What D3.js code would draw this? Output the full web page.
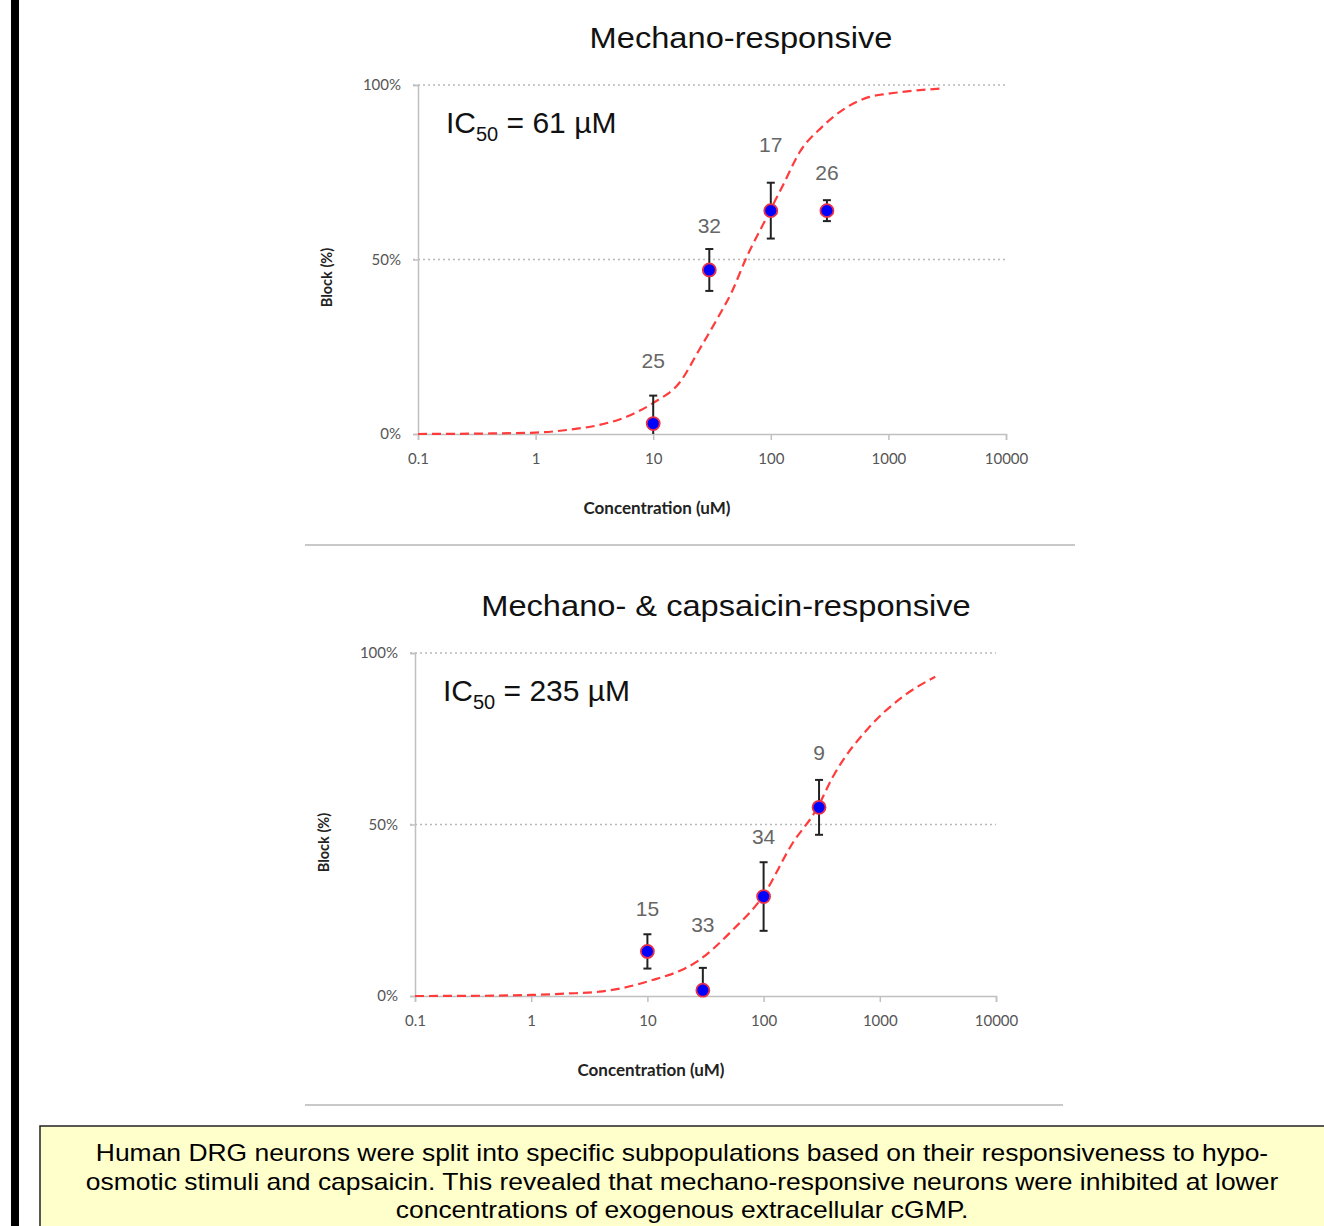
<!DOCTYPE html>
<html>
<head>
<meta charset="utf-8">
<script src="https://cdn.jsdelivr.net/npm/d3@7"></script>
<style>
  html, body { margin: 0; padding: 0; background: #fff; }
  svg { display: block; }
</style>
</head>
<body>
<svg id="chart" width="1324" height="1226"></svg>
<script>
// ---------- DATA ----------
const xTickValues = [0.1, 1, 10, 100, 1000, 10000];
const xTickLabels = ["0.1", "1", "10", "100", "1000", "10000"];
const yTickValues = [0, 50, 100];
const yTickLabels = ["0%", "50%", "100%"];

// Panel 1: Mechano-responsive
const topTitle = "Mechano-responsive";
const topIC50 = "61";
const topConc = [10, 30, 100, 300];
const topBlock = [3, 47, 64, 64];
const topErr = [8, 6, 8, 3];
const topN = ["25", "32", "17", "26"];
const topLabelAt = [21, 59.6, 83, 75];
const topCurveConc = [0.1, 0.3, 1, 2, 3.5, 6, 10, 17, 24.5, 35, 47, 61, 92, 130, 174, 273, 690, 1000, 2800];
const topCurvePct  = [0, 0.1, 0.4, 1.3, 2.6, 5, 8.9, 15, 24, 33, 41, 50, 62, 72, 80.5, 88, 96.6, 97.5, 99];

// Panel 2: Mechano- & capsaicin-responsive
const botTitle = "Mechano- & capsaicin-responsive";
const botIC50 = "235";
const botConc = [10, 30, 100, 300];
const botBlock = [13, 1.7, 29, 55];
const botErr = [5, 6.5, 10, 8];
const botN = ["15", "33", "34", "9"];
const botLabelAt = [25.4, 20.7, 46.6, 71.1];
const botCurveConc = [0.1, 0.3, 1, 2, 3.86, 10, 28, 54, 97.6, 178, 290, 390, 813, 1567, 3000];
const botCurvePct  = [0, 0.05, 0.3, 0.7, 1.25, 4.2, 10.5, 19.2, 28.9, 44.6, 54.8, 63.6, 78.4, 87.2, 93.1];

const captionLines = [
  "Human DRG neurons were split into specific subpopulations based on their responsiveness to hypo-",
  "osmotic stimuli and capsaicin. This revealed that mechano-responsive neurons were inhibited at lower",
  "concentrations of exogenous extracellular cGMP."
];

// ---------- DRAW ----------
const svg = d3.select("#chart");
const tickFont = "Lato, 'Open Sans', sans-serif";
const mainFont = "'Liberation Sans', Arial, sans-serif";

// left black bar
svg.append("rect").attr("x", 11).attr("y", 0).attr("width", 8).attr("height", 1226).attr("fill", "#000");

function panel(cfg) {
  const x = d3.scaleLog().domain([0.1, 10000]).range([cfg.left, cfg.right]);
  const y = d3.scaleLinear().domain([0, 100]).range([cfg.bottom, cfg.top]);
  const g = svg.append("g");

  // title (slightly stretched horizontally like the reference)
  g.append("text")
    .attr("transform", `translate(${cfg.titleX},${cfg.titleY}) scale(1.125,1)`)
    .attr("text-anchor", "middle").attr("font-family", mainFont)
    .attr("font-size", 29).attr("fill", "#111").text(cfg.title);

  // gridlines (dotted)
  g.selectAll(".grid").data(yTickValues.filter(v => v > 0)).enter().append("line")
    .attr("x1", cfg.left - 5).attr("x2", cfg.right)
    .attr("y1", d => y(d)).attr("y2", d => y(d))
    .attr("stroke", "#b8b8b8").attr("stroke-width", 1.5).attr("stroke-dasharray", "2,3");

  // y axis
  const yAxis = d3.axisLeft(y).tickValues(yTickValues).tickFormat((d, i) => yTickLabels[i]).tickSize(5).tickPadding(12);
  const ya = g.append("g").attr("transform", `translate(${cfg.left},0)`).call(yAxis);
  ya.select(".domain").attr("stroke", "#c0c0c0").attr("stroke-width", 1.5);
  ya.selectAll(".tick line").attr("stroke", "#c0c0c0").attr("stroke-width", 1.5);
  ya.selectAll(".tick text").attr("font-family", tickFont).attr("font-size", 15).attr("fill", "#555");

  // x axis
  const xAxis = d3.axisBottom(x).tickValues(xTickValues).tickFormat((d, i) => xTickLabels[i]).tickSize(6).tickPadding(13);
  const xa = g.append("g").attr("transform", `translate(0,${cfg.bottom})`).call(xAxis);
  xa.select(".domain").attr("stroke", "#c0c0c0").attr("stroke-width", 1.5);
  xa.selectAll(".tick line").attr("stroke", "#c0c0c0").attr("stroke-width", 1.5);
  xa.selectAll(".tick text").attr("font-family", tickFont).attr("font-size", 15).attr("fill", "#555");

  // axis titles
  g.append("text").attr("transform", `translate(${cfg.left - 86},${(cfg.top + cfg.bottom) / 2 + 18}) rotate(-90)`)
    .attr("text-anchor", "middle").attr("font-family", tickFont).attr("font-weight", "bold")
    .attr("font-size", 14.5).attr("fill", "#222").text("Block (%)");
  g.append("text").attr("x", cfg.xLabelX).attr("y", cfg.bottom + 80)
    .attr("text-anchor", "middle").attr("font-family", tickFont).attr("font-weight", "bold")
    .attr("font-size", 17).attr("fill", "#222").text("Concentration (uM)");

  // IC50 annotation
  const ic = g.append("text").attr("x", cfg.left + 28).attr("y", cfg.top + 48)
    .attr("font-family", mainFont).attr("font-size", 30).attr("fill", "#111");
  ic.append("tspan").text("IC");
  ic.append("tspan").attr("font-size", 20).attr("dy", 8).text("50");
  ic.append("tspan").attr("dy", -8).text(` = ${cfg.ic50} \u00b5M`);

  // fitted curve (dashed)
  const pts = cfg.curveConc.map((c, i) => [c, cfg.curvePct[i]]);
  const line = d3.line().x(d => x(d[0])).y(d => y(d[1])).curve(d3.curveMonotoneX);
  g.append("path").attr("d", line(pts)).attr("fill", "none")
    .attr("stroke", "#ff3b3b").attr("stroke-width", 2.2).attr("stroke-dasharray", "9,5");

  // error bars
  const data = cfg.conc.map((c, i) => ({ c, v: cfg.block[i], e: cfg.err[i], n: cfg.n[i], la: cfg.labelAt[i] }));
  const eb = g.selectAll(".eb").data(data).enter().append("g");
  eb.append("line").attr("x1", d => x(d.c)).attr("x2", d => x(d.c))
    .attr("y1", d => y(Math.max(0, d.v - d.e))).attr("y2", d => y(d.v + d.e))
    .attr("stroke", "#222").attr("stroke-width", 2);
  eb.append("line").attr("x1", d => x(d.c) - 4).attr("x2", d => x(d.c) + 4)
    .attr("y1", d => y(d.v + d.e)).attr("y2", d => y(d.v + d.e))
    .attr("stroke", "#222").attr("stroke-width", 2);
  eb.filter(d => d.v - d.e > 0).append("line").attr("x1", d => x(d.c) - 4).attr("x2", d => x(d.c) + 4)
    .attr("y1", d => y(d.v - d.e)).attr("y2", d => y(d.v - d.e))
    .attr("stroke", "#222").attr("stroke-width", 2);

  // points
  g.selectAll(".pt").data(data).enter().append("circle")
    .attr("cx", d => x(d.c)).attr("cy", d => y(d.v)).attr("r", 6.5)
    .attr("fill", "#0000ff").attr("stroke", "#e8304a").attr("stroke-width", 1.8);

  // n labels
  g.selectAll(".nl").data(data).enter().append("text")
    .attr("x", d => x(d.c)).attr("y", d => y(d.la))
    .attr("text-anchor", "middle").attr("dominant-baseline", "central")
    .attr("font-family", mainFont).attr("font-size", 21).attr("fill", "#666").text(d => d.n);

  // separator
  g.append("line").attr("x1", cfg.sepX1).attr("x2", cfg.sepX2).attr("y1", cfg.sepY).attr("y2", cfg.sepY)
    .attr("stroke", "#c8c8c8").attr("stroke-width", 2);
}

panel({
  title: topTitle, ic50: topIC50, titleX: 741, titleY: 48,
  left: 418, right: 1006, top: 85, bottom: 434, xLabelX: 657,
  conc: topConc, block: topBlock, err: topErr, n: topN, labelAt: topLabelAt,
  curveConc: topCurveConc, curvePct: topCurvePct,
  sepX1: 305, sepX2: 1075, sepY: 545
});

panel({
  title: botTitle, ic50: botIC50, titleX: 726, titleY: 616,
  left: 415, right: 996, top: 653, bottom: 996, xLabelX: 651,
  conc: botConc, block: botBlock, err: botErr, n: botN, labelAt: botLabelAt,
  curveConc: botCurveConc, curvePct: botCurvePct,
  sepX1: 305, sepX2: 1063, sepY: 1105
});

// caption box
svg.append("rect").attr("x", 40).attr("y", 1126).attr("width", 1300).attr("height", 120)
  .attr("fill", "#ffffcc").attr("stroke", "#222").attr("stroke-width", 1.5);
svg.selectAll(".cap").data(captionLines).enter().append("text")
  .attr("transform", (d, i) => `translate(682,${1161 + i * 28.5}) scale(1.15,1)`)
  .attr("text-anchor", "middle").attr("font-family", mainFont).attr("font-size", 23)
  .attr("fill", "#000").text(d => d);
</script>
</body>
</html>
